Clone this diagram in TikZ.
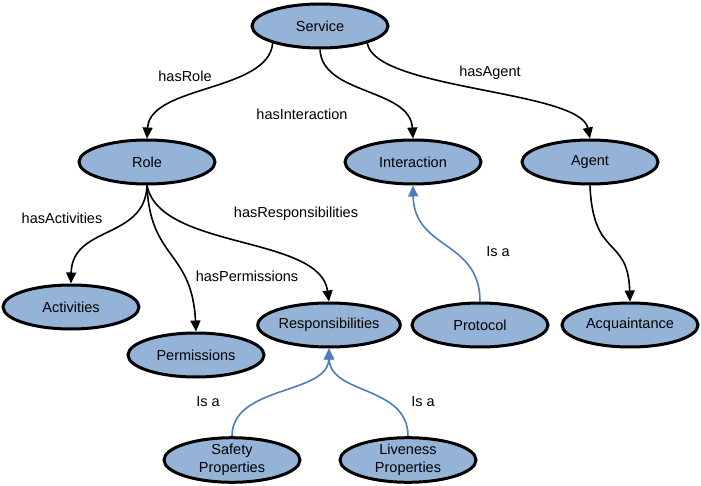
\documentclass[tikz,border=0pt]{standalone}
\usepackage{fontspec}
\setmainfont{Liberation Sans}
\usetikzlibrary{arrows.meta,shapes.geometric}
\definecolor{nodefill}{HTML}{95B3D7}
\definecolor{isablue}{HTML}{4A7EBB}
\begin{document}
\begin{tikzpicture}[x=1pt,y=-1pt,
  concept/.style={ellipse,draw=black,line width=3pt,fill=nodefill,minimum width=136pt,minimum height=44pt,inner sep=0pt,font=\fontsize{14.5}{18}\selectfont,align=center},
  rel/.style={draw=black,line width=1.6pt,-{Triangle[length=11pt,width=10pt]}},
  isa/.style={draw=isablue,line width=1.6pt,-{Triangle[length=11pt,width=10pt]}},
  lbl/.style={font=\fontsize{14.5}{17}\selectfont,inner sep=0pt}]
\useasboundingbox (0,0) rectangle (701,486);
\node[concept] (serv) at (320,26) {Service};
\node[concept] (role) at (147,162) {Role};
\node[concept] (inter) at (413,162) {Interaction};
\node[concept] (agent) at (590,162) {Agent};
\node[concept] (act) at (71,307) {Activities};
\node[concept] (perm) at (196,355) {Permissions};
\node[concept] (resp) at (329,325) {Responsibilities};
\node[concept] (proto) at (480,325) {Protocol};
\node[concept] (acq) at (630,325) {Acquaintance};
\node[concept] (safe) at (232,460) {Safety\\Properties};
\node[concept] (live) at (408,460) {Liveness\\Properties};

\draw[rel] (serv.200) .. controls (268,92) and (150,85) .. (role.north);
\draw[rel] (serv.south) .. controls (322,95) and (410,88) .. (inter.north);
\draw[rel] (serv.-20) .. controls (375,90) and (580,90) .. (agent.north);
\draw[rel] (role.south) .. controls (145,240) and (72,225) .. (act.north);
\draw[rel] (role.south) .. controls (150,260) and (192,250) .. (perm.north);
\draw[rel] (role.south) .. controls (160,250) and (320,235) .. (resp.north);
\draw[rel] (agent.south) .. controls (593,260) and (628,235) .. (acq.north);
\draw[isa] (proto.north) .. controls (480,240) and (414,250) .. (inter.south);
\draw[isa] (safe.north) .. controls (232,385) and (328,395) .. (resp.south);
\draw[isa] (live.north) .. controls (408,385) and (330,395) .. (resp.south);

\node[lbl] (l1) at (185,76) {hasRole};
\node[lbl] (l2) at (302,114) {hasInteraction};
\node[lbl] (l3) at (490,73) {hasAgent};
\node[lbl] (l4) at (62,218) {hasActivities};
\node[lbl] (l5) at (296,214) {hasResponsibilities};
\node[lbl] (l6) at (247,276) {hasPermissions};
\node[lbl] (l7) at (498,252) {Is a};
\node[lbl] (l8) at (208,402) {Is a};
\node[lbl] (l9) at (423,402) {Is a};
\end{tikzpicture}
\end{document}
